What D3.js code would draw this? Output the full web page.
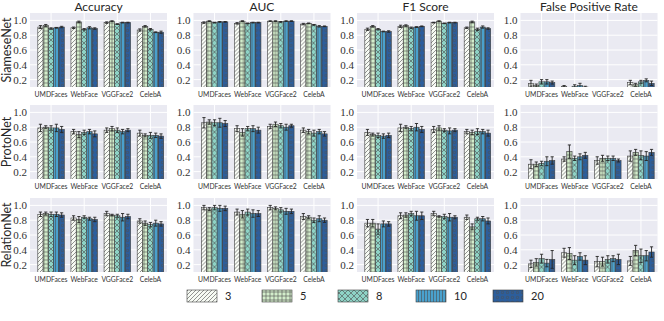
<!DOCTYPE html>
<html>
<head>
<meta charset="utf-8">
<script src="https://cdn.jsdelivr.net/npm/d3@7"></script>
<style>
	body { margin: 0; background: #ffffff; }
	svg { display: block; }
	.tick_y { font-family: 'Liberation Serif', serif; font-size: 11px; fill: #333333; }
	.tick_x { font-family: 'Lato', 'DejaVu Sans', sans-serif; font-size: 8.5px; fill: #333333; }
	.panel_title { font-family: 'Lato', 'DejaVu Sans', sans-serif; font-size: 12px; fill: #262626; }
	.row_label { font-family: 'Lato', 'DejaVu Sans', sans-serif; font-size: 12.5px; fill: #262626; }
	.legend_text { font-family: 'Lato', 'DejaVu Sans', sans-serif; font-size: 11px; fill: #262626; }
</style>
</head>
<body>
<div id="chart_div" style="width:664px;height:321px;"></div>
<script>
var datasets = ['UMDFaces', 'WebFace', 'VGGFace2', 'CelebA'];
var shots = ['3', '5', '8', '10', '20'];
var models = ['SiameseNet', 'ProtoNet', 'RelationNet'];
var metrics = ['Accuracy', 'AUC', 'F1 Score', 'False Positive Rate'];
var y_ticks = [0.2, 0.4, 0.6, 0.8, 1.0];

// mean values: [metric][dataset][shot]
var siamese_mean = [
	[[0.91, 0.93, 0.89, 0.90, 0.91], [0.90, 0.98, 0.88, 0.90, 0.89], [0.97, 0.99, 0.95, 0.97, 0.97], [0.87, 0.92, 0.88, 0.84, 0.84]],
	[[0.97, 0.99, 0.97, 0.98, 0.98], [0.96, 0.99, 0.96, 0.97, 0.97], [0.99, 0.99, 0.98, 0.99, 0.99], [0.95, 0.96, 0.94, 0.92, 0.92]],
	[[0.88, 0.92, 0.88, 0.85, 0.85], [0.92, 0.93, 0.90, 0.91, 0.92], [0.97, 0.99, 0.96, 0.97, 0.97], [0.90, 0.98, 0.88, 0.91, 0.89]],
	[[0.15, 0.12, 0.17, 0.17, 0.16], [0.11, 0.08, 0.11, 0.12, 0.10], [0.06, 0.03, 0.07, 0.05, 0.05], [0.16, 0.13, 0.17, 0.19, 0.15]]
];
var siamese_err = [
	[[0.020, 0.015, 0.010, 0.005, 0.010], [0.010, 0.010, 0.010, 0.015, 0.010], [0.010, 0.005, 0.005, 0.005, 0.005], [0.015, 0.010, 0.010, 0.005, 0.015]],
	[[0.010, 0.005, 0.005, 0.005, 0.005], [0.010, 0.005, 0.005, 0.005, 0.005], [0.005, 0.005, 0.005, 0.005, 0.005], [0.010, 0.005, 0.005, 0.010, 0.005]],
	[[0.015, 0.010, 0.010, 0.005, 0.010], [0.015, 0.010, 0.010, 0.005, 0.005], [0.005, 0.005, 0.005, 0.005, 0.005], [0.010, 0.010, 0.015, 0.015, 0.010]],
	[[0.040, 0.020, 0.030, 0.030, 0.020], [0.010, 0.010, 0.020, 0.030, 0.010], [0.020, 0.010, 0.020, 0.010, 0.010], [0.030, 0.020, 0.020, 0.020, 0.030]]
];
var proto_mean = [
	[[0.79, 0.80, 0.79, 0.79, 0.77], [0.74, 0.70, 0.73, 0.74, 0.71], [0.76, 0.78, 0.76, 0.74, 0.76], [0.72, 0.69, 0.69, 0.69, 0.68]],
	[[0.86, 0.87, 0.86, 0.86, 0.85], [0.78, 0.73, 0.78, 0.78, 0.76], [0.81, 0.84, 0.82, 0.80, 0.82], [0.76, 0.74, 0.72, 0.74, 0.71]],
	[[0.73, 0.70, 0.69, 0.68, 0.69], [0.79, 0.80, 0.78, 0.80, 0.77], [0.77, 0.79, 0.76, 0.75, 0.76], [0.74, 0.73, 0.74, 0.74, 0.72]],
	[[0.30, 0.30, 0.31, 0.34, 0.35], [0.37, 0.47, 0.38, 0.40, 0.42], [0.35, 0.38, 0.38, 0.38, 0.35], [0.41, 0.46, 0.42, 0.41, 0.46]]
];
var proto_err = [
	[[0.050, 0.020, 0.030, 0.050, 0.040], [0.030, 0.040, 0.030, 0.030, 0.040], [0.030, 0.030, 0.030, 0.030, 0.020], [0.040, 0.020, 0.040, 0.030, 0.030]],
	[[0.070, 0.030, 0.040, 0.060, 0.040], [0.040, 0.050, 0.030, 0.040, 0.040], [0.030, 0.030, 0.030, 0.040, 0.020], [0.030, 0.030, 0.040, 0.030, 0.030]],
	[[0.040, 0.020, 0.030, 0.030, 0.030], [0.050, 0.020, 0.030, 0.050, 0.040], [0.040, 0.030, 0.020, 0.040, 0.020], [0.030, 0.030, 0.040, 0.030, 0.040]],
	[[0.060, 0.030, 0.030, 0.060, 0.050], [0.030, 0.090, 0.030, 0.040, 0.040], [0.050, 0.040, 0.030, 0.030, 0.020], [0.070, 0.040, 0.060, 0.060, 0.040]]
];
var relation_mean = [
	[[0.88, 0.89, 0.88, 0.88, 0.87], [0.83, 0.81, 0.84, 0.82, 0.81], [0.89, 0.87, 0.86, 0.84, 0.85], [0.79, 0.76, 0.74, 0.76, 0.75]],
	[[0.97, 0.95, 0.97, 0.96, 0.96], [0.91, 0.88, 0.91, 0.89, 0.89], [0.97, 0.96, 0.94, 0.92, 0.92], [0.85, 0.84, 0.80, 0.82, 0.80]],
	[[0.76, 0.76, 0.68, 0.75, 0.75], [0.86, 0.87, 0.89, 0.86, 0.86], [0.89, 0.85, 0.85, 0.84, 0.84], [0.84, 0.71, 0.82, 0.82, 0.79]],
	[[0.21, 0.23, 0.28, 0.22, 0.27], [0.36, 0.35, 0.26, 0.31, 0.26], [0.24, 0.24, 0.27, 0.28, 0.27], [0.25, 0.39, 0.32, 0.32, 0.37]]
];
var relation_err = [
	[[0.030, 0.020, 0.030, 0.030, 0.030], [0.030, 0.040, 0.020, 0.020, 0.030], [0.030, 0.010, 0.020, 0.050, 0.030], [0.030, 0.030, 0.030, 0.040, 0.030]],
	[[0.030, 0.020, 0.030, 0.040, 0.030], [0.040, 0.050, 0.040, 0.050, 0.040], [0.030, 0.020, 0.030, 0.040, 0.030], [0.040, 0.020, 0.030, 0.040, 0.030]],
	[[0.050, 0.050, 0.070, 0.040, 0.030], [0.040, 0.030, 0.030, 0.060, 0.050], [0.030, 0.010, 0.030, 0.050, 0.020], [0.030, 0.040, 0.020, 0.030, 0.040]],
	[[0.050, 0.050, 0.060, 0.050, 0.120], [0.060, 0.080, 0.060, 0.050, 0.060], [0.070, 0.060, 0.050, 0.040, 0.070], [0.060, 0.070, 0.090, 0.070, 0.070]]
];

var model_means = [siamese_mean, proto_mean, relation_mean];
var model_errs = [siamese_err, proto_err, relation_err];

var bar_colours = ['#f7fbf4', '#d3edcb', '#8ed3c6', '#4aa1cd', '#2c5e9c'];
var hatch_colour = '#4d4d4d';

var layout = {
	panel_left: [30, 193.5, 357, 520.5],
	panel_width: 137,
	row_top: [13, 105, 198],
	row_height: 74
};

function draw_svg(div_id) {
	var chart_div = document.getElementById(div_id);
	var svg = d3
		.select('#' + div_id)
		.append('svg')
		.attr('width', chart_div.clientWidth)
		.attr('height', chart_div.clientHeight);
	return svg;
}

function add_patterns(svg) {
	var defs = svg.append('defs');
	var size = [4, 4, 6, 3, 5];
	shots.forEach(function (s, i) {
		var p = defs
			.append('pattern')
			.attr('id', 'hatch_' + i)
			.attr('patternUnits', 'userSpaceOnUse')
			.attr('width', size[i])
			.attr('height', size[i]);
		p.append('rect')
			.attr('width', size[i])
			.attr('height', size[i])
			.attr('fill', bar_colours[i]);
		var g = p.append('g').attr('stroke', hatch_colour).attr('stroke-width', 0.6).attr('fill', 'none');
		var n = size[i];
		if (i === 0) {
			// diagonal ///
			g.append('path').attr('d', 'M0,' + n + ' L' + n + ',0 M-1,1 L1,-1 M' + (n - 1) + ',' + (n + 1) + ' L' + (n + 1) + ',' + (n - 1));
		} else if (i === 1) {
			// plus grid
			g.append('path').attr('d', 'M0,' + n / 2 + ' H' + n + ' M' + n / 2 + ',0 V' + n);
		} else if (i === 2) {
			// cross
			g.append('path').attr('d', 'M0,0 L' + n + ',' + n + ' M0,' + n + ' L' + n + ',0');
		} else if (i === 3) {
			// vertical
			g.append('path').attr('d', 'M' + n / 2 + ',0 V' + n);
		} else {
			// small circles
			g.append('circle').attr('cx', n / 2).attr('cy', n / 2).attr('r', 1.2);
		}
	});
}

function draw_panel(svg, row, col) {
	var left = layout.panel_left[col];
	var top = layout.row_top[row];
	var pw = layout.panel_width;
	var ph = layout.row_height;
	var g = svg.append('g').attr('transform', 'translate(' + left + ',' + top + ')');

	var x = d3.scaleLinear().domain([-0.636, 3.5]).range([0, pw]);
	var y = d3.scaleLinear().domain([0.1, 1.1]).range([ph, 0]);
	var bar_w = 0.16;

	var clip_id = 'clip_' + row + '_' + col;
	g.append('clipPath').attr('id', clip_id).append('rect').attr('width', pw).attr('height', ph);

	g.append('rect').attr('width', pw).attr('height', ph).attr('fill', '#eaeaf2');

	g.selectAll('.grid_y')
		.data(y_ticks)
		.enter()
		.append('line')
		.attr('x1', 0)
		.attr('x2', pw)
		.attr('y1', (d) => y(d))
		.attr('y2', (d) => y(d))
		.attr('stroke', '#ffffff')
		.attr('stroke-width', 1);

	g.selectAll('.grid_x')
		.data(datasets)
		.enter()
		.append('line')
		.attr('x1', (d, i) => x(i))
		.attr('x2', (d, i) => x(i))
		.attr('y1', 0)
		.attr('y2', ph)
		.attr('stroke', '#ffffff')
		.attr('stroke-width', 1);

	var means = model_means[row][col];
	var errs = model_errs[row][col];
	var bar_data = [];
	datasets.forEach(function (d, i) {
		shots.forEach(function (s, j) {
			bar_data.push({ group: i, shot: j, value: means[i][j], err: errs[i][j] });
		});
	});

	var plot = g.append('g').attr('clip-path', 'url(#' + clip_id + ')');

	plot.selectAll('.bar')
		.data(bar_data)
		.enter()
		.append('rect')
		.attr('x', (d) => x(d.group - 0.4 + d.shot * bar_w))
		.attr('width', x(bar_w) - x(0))
		.attr('y', (d) => y(d.value))
		.attr('height', (d) => y(0) - y(d.value))
		.attr('fill', (d) => 'url(#hatch_' + d.shot + ')')
		.attr('stroke', '#3d3d3d')
		.attr('stroke-width', 0.6);

	var bar_mid = (d) => x(d.group - 0.4 + (d.shot + 0.5) * bar_w);
	var err_g = plot.selectAll('.err').data(bar_data).enter().append('g').attr('stroke', '#262626').attr('stroke-width', 0.9);
	err_g.append('line')
		.attr('x1', bar_mid)
		.attr('x2', bar_mid)
		.attr('y1', (d) => y(d.value - d.err))
		.attr('y2', (d) => y(d.value + d.err));
	err_g.append('line')
		.attr('x1', (d) => bar_mid(d) - 1.6)
		.attr('x2', (d) => bar_mid(d) + 1.6)
		.attr('y1', (d) => y(d.value + d.err))
		.attr('y2', (d) => y(d.value + d.err));
	err_g.append('line')
		.attr('x1', (d) => bar_mid(d) - 1.6)
		.attr('x2', (d) => bar_mid(d) + 1.6)
		.attr('y1', (d) => y(d.value - d.err))
		.attr('y2', (d) => y(d.value - d.err));

	g.selectAll('.tick_y')
		.data(y_ticks)
		.enter()
		.append('text')
		.attr('class', 'tick_y')
		.attr('x', -3)
		.attr('y', (d) => y(d) + 4)
		.attr('text-anchor', 'end')
		.text((d) => d.toFixed(1));

	// narrow sans labels, squeezed horizontally like the original
	g.selectAll('.tick_x')
		.data(datasets)
		.enter()
		.append('text')
		.attr('class', 'tick_x')
		.attr('text-anchor', 'middle')
		.attr('transform', (d, i) => 'translate(' + x(i) + ',' + (ph + 9.5) + ') scale(0.8,1)')
		.text((d) => d);

	if (row === 0) {
		g.append('text')
			.attr('class', 'panel_title')
			.attr('x', pw / 2)
			.attr('y', -2.5)
			.attr('text-anchor', 'middle')
			.text(metrics[col]);
	}
	if (col === 0) {
		g.append('text')
			.attr('class', 'row_label')
			.attr('transform', 'translate(-19.5,' + ph / 2 + ') rotate(-90)')
			.attr('text-anchor', 'middle')
			.text(models[row]);
	}
}

function draw_legend(svg) {
	var legend_x = [187, 262, 338, 416, 493];
	var g = svg.append('g').attr('transform', 'translate(0,290)');
	var items = g.selectAll('.legend_item').data(shots).enter().append('g');
	items.append('rect')
		.attr('x', (d, i) => legend_x[i])
		.attr('y', 0)
		.attr('width', 30)
		.attr('height', 12)
		.attr('fill', (d, i) => 'url(#hatch_' + i + ')')
		.attr('stroke', '#3d3d3d')
		.attr('stroke-width', 0.6);
	items.append('text')
		.attr('class', 'legend_text')
		.attr('x', (d, i) => legend_x[i] + 38)
		.attr('y', 10)
		.text((d) => d);
}

var svg = draw_svg('chart_div');
add_patterns(svg);
models.forEach(function (m, r) {
	metrics.forEach(function (t, c) {
		draw_panel(svg, r, c);
	});
});
draw_legend(svg);
</script>
</body>
</html>
